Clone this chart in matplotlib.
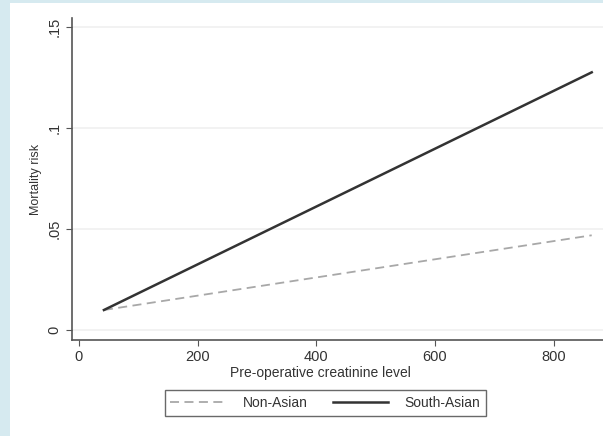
#!/usr/bin/env python3
"""Predicted mortality risk vs pre-operative creatinine, by ethnicity."""

import matplotlib.pyplot as plt
from matplotlib.patches import Rectangle

creatinine = [42, 406, 864]
non_asian = [0.0099, 0.0263, 0.0469]
south_asian = [0.0099, 0.0620, 0.1276]

x_ticks = [0, 200, 400, 600, 800]
y_ticks = [0, 0.05, 0.1, 0.15]
y_tick_labels = ["0", ".05", ".1", ".15"]

plt.rcParams["font.family"] = ["Liberation Sans", "DejaVu Sans"]

fig = plt.figure(figsize=(6.03, 4.36), dpi=100, facecolor="#d6eaf0")
# white graph region (leaves a light blue band at left and top)
fig.patches.append(Rectangle((10 / 603, 0), 1 - 10 / 603, 1 - 3 / 436,
                             transform=fig.transFigure, facecolor="white",
                             edgecolor="none", zorder=-10))

ax = fig.add_axes([71.7 / 603, 96 / 436, (603 - 71.7) / 603, (340 - 18) / 436])
ax.set_facecolor("white")

ax.plot(creatinine, non_asian, color="#a8a8a8", linestyle=(0, (5, 3)),
        linewidth=1.3, label="Non-Asian")
ax.plot(creatinine, south_asian, color="#333333", linewidth=1.8,
        label="South-Asian")

ax.set_xlim(-12.3, 883)
ax.set_ylim(-0.00495, 0.1545)
ax.set_xticks(x_ticks)
ax.set_yticks(y_ticks)
ax.set_yticklabels(y_tick_labels, rotation=90, va="center")
ax.grid(axis="y", color="#f0f0f0", linewidth=1.2)
ax.set_axisbelow(True)

for side in ("top", "right"):
    ax.spines[side].set_visible(False)
for side in ("left", "bottom"):
    ax.spines[side].set_color("#555555")
    ax.spines[side].set_linewidth(1.2)
ax.tick_params(colors="#555555", labelcolor="#333333", length=4,
               labelsize=10.5)

ax.set_xlabel("Pre-operative creatinine level", fontsize=10, color="#333333",
              labelpad=1)
ax.xaxis.label.set_x(0.469)
ax.set_ylabel("Mortality risk", fontsize=9, color="#333333", labelpad=4)

leg = fig.legend(loc="center", bbox_to_anchor=(325.5 / 603, 1 - 403 / 436),
                 ncol=2, fontsize=10, frameon=True, fancybox=False,
                 handlelength=4.0, columnspacing=1.8, borderpad=0.4,
                 handletextpad=1.2)
leg.get_frame().set_edgecolor("#444444")
leg.get_frame().set_linewidth(1.0)
for t in leg.get_texts():
    t.set_color("#333333")

fig.savefig("out.png", dpi=100, facecolor=fig.get_facecolor())
plt.close(fig)
